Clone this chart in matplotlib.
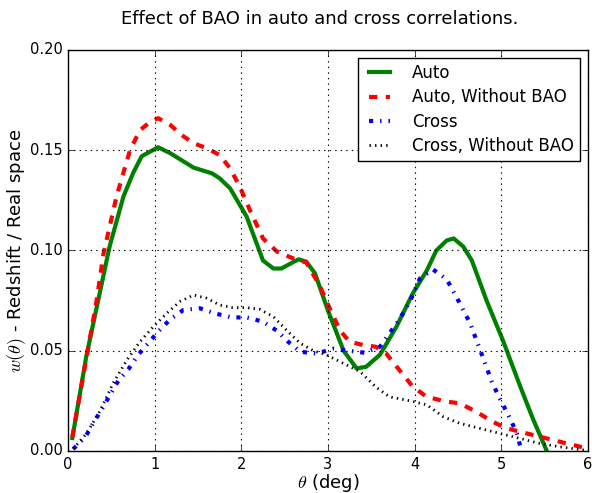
import matplotlib
matplotlib.use("Agg")
import matplotlib.pyplot as plt
import numpy as np

plt.style.use("classic")

# Auto correlation (with BAO)
theta_auto = [0.05, 0.21, 0.48, 0.64, 0.75, 0.85, 1.04, 1.18, 1.45, 1.66, 1.75, 1.87,
              2.06, 2.25, 2.37, 2.46, 2.66, 2.75, 2.85, 3.0, 3.18, 3.33, 3.44, 3.6,
              3.79, 3.98, 4.14, 4.25, 4.37, 4.45, 4.56, 4.66, 4.83, 5.02, 5.22, 5.37,
              5.52, 5.6]
w_auto = [0.0065, 0.047, 0.102, 0.127, 0.1385, 0.147, 0.1515, 0.1485, 0.1413, 0.1385,
          0.136, 0.131, 0.117, 0.095, 0.091, 0.091, 0.0956, 0.0944, 0.0886, 0.0700,
          0.050, 0.0412, 0.042, 0.048, 0.062, 0.0787, 0.090, 0.100, 0.105, 0.106,
          0.102, 0.095, 0.075, 0.055, 0.032, 0.0155, 0.0005, -0.008]

# Auto correlation without BAO
theta_auto_nb = [0.05, 0.33, 0.41, 0.56, 0.715, 0.83, 0.945, 1.04, 1.18, 1.33, 1.45,
                 1.6, 1.75, 1.87, 1.98, 2.1, 2.25, 2.41, 2.6, 2.75, 2.91, 3.0, 3.14,
                 3.25, 3.4, 3.55, 3.67, 3.83, 3.98, 4.14, 4.37, 4.52, 4.71, 4.9, 5.06,
                 5.29, 5.52, 5.75, 6.0]
w_auto_nb = [0.007, 0.075, 0.0986, 0.127, 0.150, 0.160, 0.164, 0.166, 0.1626, 0.157,
             0.1535, 0.151, 0.1476, 0.141, 0.132, 0.120, 0.106, 0.0995, 0.096, 0.094,
             0.082, 0.073, 0.060, 0.0545, 0.0529, 0.052, 0.0487, 0.040, 0.032, 0.027,
             0.0246, 0.0238, 0.0196, 0.0146, 0.0113, 0.0088, 0.0063, 0.0038, 0.0012]

# Cross correlation (with BAO)
theta_cross = [0.06, 0.2, 0.29, 0.39, 0.485, 0.58, 0.7, 0.81, 0.93, 1.05, 1.18, 1.33,
               1.52, 1.69, 1.88, 2.07, 2.25, 2.41, 2.54, 2.68, 2.87, 3.06, 3.25, 3.42,
               3.6, 3.71, 3.83, 3.95, 4.06, 4.21, 4.37, 4.48, 4.64, 4.77, 4.89, 4.98,
               5.08, 5.18, 5.23, 5.3]
w_cross = [0.001, 0.007, 0.0138, 0.0208, 0.028, 0.035, 0.041, 0.048, 0.054, 0.060,
           0.0657, 0.0703, 0.0712, 0.0687, 0.0667, 0.0665, 0.0645, 0.060, 0.0545,
           0.0495, 0.0486, 0.051, 0.050, 0.049, 0.052, 0.0587, 0.066, 0.075, 0.086,
           0.0906, 0.0856, 0.077, 0.0637, 0.0487, 0.0346, 0.0263, 0.018, 0.0088,
           0.0005, -0.008]

# Cross correlation without BAO
theta_cross_nb = [0.06, 0.215, 0.37, 0.52, 0.68, 0.83, 0.985, 1.14, 1.29, 1.45, 1.6,
                  1.75, 1.9, 2.06, 2.21, 2.37, 2.52, 2.68, 2.83, 2.98, 3.14, 3.37,
                  3.55, 3.71, 3.95, 4.14, 4.33, 4.52, 4.75, 4.98, 5.21, 5.44, 5.67,
                  6.0]
w_cross_nb = [0.001, 0.0088, 0.020, 0.0338, 0.0454, 0.0545, 0.062, 0.0687, 0.0745,
              0.0778, 0.0762, 0.0728, 0.0715, 0.0715, 0.0707, 0.067, 0.0603, 0.0537,
              0.0500, 0.048, 0.0445, 0.0396, 0.032, 0.027, 0.025, 0.023, 0.0171,
              0.0138, 0.0113, 0.0088, 0.0063, 0.0038, 0.0021, 0.0002]

fig = plt.figure(figsize=(5.92, 4.93), dpi=100, facecolor="white")
ax = fig.add_axes([0.1149, 0.0852, 0.8783, 0.8134])

ax.plot(theta_auto, w_auto, color="green", lw=3, ls="-", label="Auto")
ax.plot(theta_auto_nb, w_auto_nb, color="red", lw=3, ls="--", label="Auto, Without BAO")
ax.plot(theta_cross, w_cross, color="blue", lw=3, ls="-.", label="Cross")
ax.plot(theta_cross_nb, w_cross_nb, color="black", lw=2, ls=":", label="Cross, Without BAO")

ax.set_xlim(0, 6)
ax.set_ylim(0, 0.2)
ax.set_xticks(np.arange(0, 7, 1))
ax.set_yticks(np.arange(0, 0.21, 0.05))
ax.yaxis.set_major_formatter(matplotlib.ticker.FormatStrFormatter("%.2f"))
ax.tick_params(labelsize=10.5)
ax.grid(True, color="black", ls=":", lw=0.8)

ax.set_xlabel(r"$\theta$ (deg)", fontsize=13, labelpad=0)
ax.set_ylabel(r"$w(\theta)$ - Redshift / Real space", fontsize=13, labelpad=1)
fig.suptitle("Effect of BAO in auto and cross correlations.", fontsize=13,
             x=0.54, y=0.98)

ax.legend(loc="upper right", fontsize=12, frameon=True, fancybox=False,
          handlelength=1.9, handletextpad=1.0, borderaxespad=0.5,
          borderpad=0.35, labelspacing=0.38)

fig.savefig("out.png", dpi=100, facecolor="white")
